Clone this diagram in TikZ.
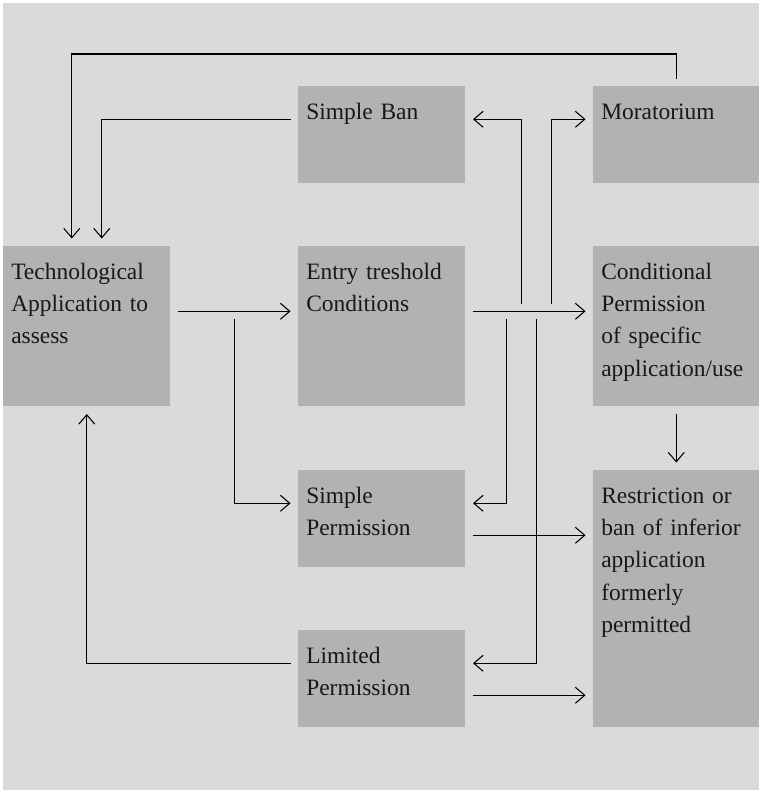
\documentclass[tikz,border=0pt]{standalone}
\usepackage{fontspec}
\setmainfont{Liberation Serif}
\usetikzlibrary{arrows.meta}
\definecolor{bggray}{RGB}{218,218,218}
\definecolor{boxgray}{RGB}{178,178,178}
\definecolor{inkgray}{RGB}{24,24,24}
\tikzset{
	box/.style={fill=boxgray, anchor=north west, inner xsep=6pt, inner ysep=0pt, align=left,
		text=inkgray, text height=24.75pt, font=\fontsize{17.6}{24.2}\selectfont},
	wide/.style={text width=113.25pt},
	narrow/.style={text width=112.5pt},
	arr/.style={-{Straight Barb[length=7pt,width=12pt]}, line width=0.8pt, shorten <=5.6pt, shorten >=5.6pt}
}

\begin{document}
\begin{tikzpicture}[x=0.75pt,y=-0.75pt]
			%%%%% START %%%%%
			\useasboundingbox (0,0) rectangle (759,790);
			\fill[bggray] (3,3) rectangle (759,790);
			
			\node[box, wide, text depth=95.25pt] (tech) at (3,246) {Technological\\Application to\\assess};
			\node[box, wide, text depth=48pt] (ban) at (298,86) {Simple Ban};
			\node[box, narrow, text depth=48pt] (mora) at (593,86) {Moratorium};
			\node[box, wide, text depth=95.25pt] (entry) at (298,246) {Entry treshold\\Conditions};
			\node[box, narrow, text depth=95.25pt] (cond) at (593,246) {Conditional\\Permission\\of specific\\application/use};
			\node[box, wide, text depth=48pt] (sperm) at (298,470) {Simple\\Permission};
			\node[box, wide, text depth=48pt] (lperm) at (298,630) {Limited\\Permission};
			\node[box, narrow, text depth=168pt] (restr) at (593,470) {Restriction or\\ban of inferior\\application\\formerly\\permitted};
			
			% second text line of a box
			\coordinate (techout) at ([yshift=-24pt]tech.base east);
			\coordinate (entryin) at ([yshift=-24pt]entry.base west);
			\coordinate (entryout) at ([yshift=-24pt]entry.base east);
			\coordinate (condin) at ([yshift=-24pt]cond.base west);
			\coordinate (spermout) at ([yshift=-24pt]sperm.base east);
			\coordinate (lpermout) at ([yshift=-24pt]lperm.base east);
			\path (techout) -- (entryin) coordinate[pos=0.5] (fork);
			\path (entryout) -- (condin) coordinate[pos=0.5] (hub);
			
			\draw[arr] (techout) -- (entryin);
			\draw[arr] (fork) |- (sperm.base west);
			\draw[arr] (entryout) -- (condin);
			
			\draw[arr] ([xshift=-5.6pt]hub) |- (ban.base east);
			\draw[arr] ([xshift=16.9pt]hub) |- (mora.base west);
			\draw[arr] ([xshift=-16.9pt]hub) |- (sperm.base east);
			\draw[arr] ([xshift=5.6pt]hub) |- (lperm.base east);
			
			\draw[arr] (mora.north) -- ++(0,-32) -| ([xshift=-11.25pt]tech.north);
			\draw[arr] (ban.base west) -| ([xshift=11.25pt]tech.north);
			\draw[arr] (lperm.base west) -| (tech.south);
			
			\draw[arr] (cond.south) -- (restr.north);
			\draw[arr] (spermout) -- (spermout -| restr.west);
			\draw[arr] (lpermout) -- (lpermout -| restr.west);
			%%%%% END %%%%%
\end{tikzpicture}
\end{document}
